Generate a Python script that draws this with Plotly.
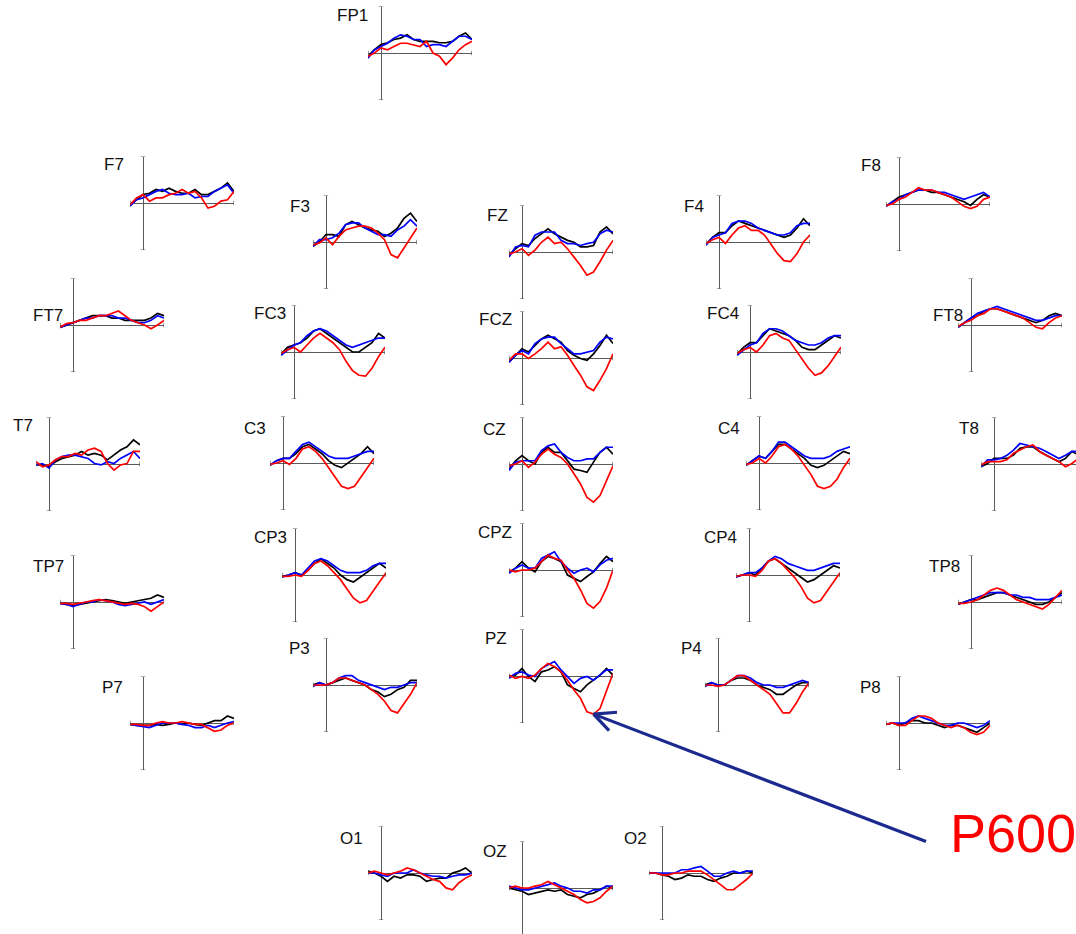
import plotly.graph_objects as go

# ---------------------------------------------------------------- data
# Grand-average ERPs (µV, negative plotted up), one value every 50 ms
TIMES = [-100, -50, 0, 50, 100, 150, 200, 250, 300, 350, 400, 450, 500, 550, 600, 650, 700]

CHANNELS = ["FP1", "F7", "F8", "F3", "FZ", "F4", "FT7", "FC3", "FCZ", "FC4", "FT8",
            "T7", "C3", "CZ", "C4", "T8", "TP7", "CP3", "CPZ", "CP4", "TP8",
            "P7", "P3", "PZ", "P4", "P8", "O1", "OZ", "O2"]

# condition drawn in black
COND_BLACK = {
    "FP1": [0.7, -0.7, -1.8, -2.2, -2.9, -3.2, -3.9, -2.9, -2.5, -2.5, -2.5, -2.2, -2.2, -2.5, -3.6, -4.3, -2.9],
    "F7":  [0.4, -0.7, -1.8, -2.1, -2.9, -2.5, -3.2, -2.5, -2.1, -2.1, -2.9, -1.8, -1.8, -2.5, -3.2, -4.3, -2.5],
    "F8":  [0.5, -0.5, -1.5, -2.0, -2.5, -3.0, -3.0, -2.5, -2.5, -2.0, -1.5, -1.0, -0.5, 0.3, -1.0, -2.0, -1.5],
    "F3":  [0.9, 0.0, -1.6, -1.6, -1.2, -3.7, -4.4, -3.7, -3.0, -2.6, -2.3, -1.2, -1.9, -3.0, -5.1, -6.2, -4.4],
    "FZ":  [0.7, -0.7, -1.8, -1.4, -2.9, -3.9, -5.0, -3.9, -3.2, -2.5, -2.1, -1.1, -1.1, -1.4, -4.3, -5.4, -3.9],
    "F4":  [0.5, -1.0, -2.0, -2.0, -3.5, -4.5, -4.0, -3.5, -3.0, -2.5, -2.0, -1.5, -1.0, -1.5, -3.0, -5.0, -3.5],
    "FT7": [0.5, 0.0, -0.5, -1.0, -1.5, -2.0, -2.0, -2.0, -1.5, -1.5, -1.0, -1.0, -1.0, -1.0, -1.5, -2.5, -2.0],
    "FC3": [0.5, -1.0, -1.5, -2.0, -3.0, -4.5, -5.0, -4.0, -3.0, -2.0, -1.0, 0.0, 0.0, -1.0, -2.0, -4.0, -3.0],
    "FCZ": [0.9, -0.6, -2.0, -1.3, -2.7, -4.1, -4.9, -4.1, -3.4, -1.6, -0.6, 0.1, 0.5, -0.9, -2.7, -4.9, -3.1],
    "FC4": [0.5, -1.0, -2.0, -2.0, -3.5, -5.0, -4.5, -4.0, -3.5, -2.5, -1.0, -0.5, -0.5, -1.5, -2.5, -3.5, -3.0],
    "FT8": [0.5, -0.5, -1.5, -2.0, -3.0, -3.5, -3.5, -3.0, -2.5, -2.0, -1.5, -1.0, -0.5, -1.0, -2.0, -2.5, -2.0],
    "T7":  [0.2, 0.2, 0.6, -0.5, -1.2, -1.6, -1.9, -2.7, -1.9, -2.3, -1.9, -0.9, -1.9, -3.0, -3.7, -5.2, -4.1],
    "C3":  [0.5, -0.5, -1.0, -1.0, -2.0, -3.5, -4.0, -3.0, -2.0, -0.5, 0.5, 1.0, 0.0, -1.0, -2.0, -3.5, -2.0],
    "CZ":  [1.1, -0.7, -1.8, -0.7, 0.0, -2.5, -3.6, -2.5, -2.5, -0.7, 1.1, 1.4, 1.8, -0.4, -2.5, -3.6, -2.1],
    "C4":  [0.5, -0.5, -1.5, -1.0, -2.5, -4.0, -4.0, -3.0, -2.0, -1.0, 0.5, 1.0, 0.5, -0.5, -1.5, -2.5, -2.0],
    "T8":  [0.6, -0.1, -1.2, -1.2, -1.2, -1.9, -3.4, -3.7, -3.7, -2.7, -1.9, -1.2, -0.5, -1.2, -2.7, -2.0, -1.2],
    "TP7": [0.3, 0.5, 0.8, 0.5, 0.3, 0.0, -0.3, -0.5, -0.3, 0.0, 0.3, 0.0, -0.3, -0.5, -0.8, -1.5, -1.0],
    "CP3": [0.3, 0.0, -0.5, 0.0, -1.0, -2.5, -3.5, -2.5, -1.5, 0.0, 1.0, 1.5, 0.5, -0.5, -1.5, -2.5, -1.5],
    "CPZ": [0.4, -0.4, -1.8, -0.4, 0.4, -1.8, -2.9, -2.5, -1.8, 1.1, 1.8, 2.5, 1.4, 0.4, -1.4, -2.9, -1.8],
    "CP4": [0.3, 0.0, -0.5, 0.0, -1.5, -3.0, -3.5, -2.5, -1.5, -0.5, 0.5, 1.5, 1.0, 0.0, -1.0, -2.0, -1.5],
    "TP8": [0.5, 0.0, -0.5, -0.5, -1.0, -1.5, -2.0, -2.0, -1.5, -1.0, -0.5, 0.0, 0.5, 0.5, 0.0, -1.0, -2.0],
    "P7":  [0.3, 0.5, 0.5, 0.5, 0.3, 0.5, 0.3, 0.0, 0.3, 0.0, 0.3, 0.5, 0.0, -0.5, -0.5, -1.5, -1.0],
    "P3":  [0.0, -0.5, 0.0, -0.5, -1.0, -1.5, -1.0, -0.5, 0.0, 1.0, 1.5, 2.5, 2.0, 1.0, 0.5, -1.0, -1.0],
    "PZ":  [0.1, -0.2, -1.6, 0.1, 1.2, -0.9, -1.3, -2.0, -0.9, 1.9, 2.7, 3.4, 1.9, 0.9, -0.2, -1.6, -0.2],
    "P4":  [0.0, -0.5, 0.0, 0.0, -1.0, -1.5, -1.5, -1.0, 0.0, 0.5, 1.0, 2.0, 2.0, 1.0, 0.0, -0.5, -0.5],
    "P8":  [0.3, 0.0, 0.5, 0.0, -0.5, -0.5, 0.0, 0.0, 0.5, 1.0, 0.5, 0.5, 1.0, 1.5, 2.0, 1.0, 0.0],
    "O1":  [-0.4, 0.0, 0.7, 1.8, 0.7, 1.1, 0.4, 0.4, 0.7, 1.8, 1.4, 1.1, 1.1, 0.0, -0.4, -1.1, 0.0],
    "OZ":  [0.0, 0.4, 0.7, 1.4, 1.1, 0.7, 0.4, 0.7, 0.4, 1.4, 1.8, 2.1, 1.4, 1.1, 0.4, -0.4, 0.0],
    "O2":  [0.0, 0.0, 0.4, 0.7, 1.4, 1.1, 0.4, 0.7, 0.7, 1.4, 1.8, 1.1, 0.7, 0.0, 0.0, -0.4, 0.0],
}

# condition drawn in blue
COND_BLUE = {
    "FP1": [1.1, -0.7, -1.4, -2.1, -3.2, -3.9, -3.6, -2.9, -2.9, -1.4, -1.8, -1.8, -1.4, -2.5, -3.6, -3.6, -2.9],
    "F7":  [0.7, -0.7, -1.1, -1.8, -2.5, -2.9, -2.1, -1.8, -1.8, -2.1, -1.1, -1.4, -1.4, -2.5, -3.2, -3.9, -2.1],
    "F8":  [0.5, -0.5, -1.0, -2.0, -2.5, -3.0, -3.0, -3.0, -2.5, -2.5, -2.0, -1.5, -1.0, -1.5, -2.0, -2.5, -1.5],
    "F3":  [0.9, -0.5, -0.5, -0.9, -1.9, -3.7, -4.1, -4.1, -3.0, -2.3, -1.6, -1.6, -1.2, -2.6, -3.4, -4.8, -3.4],
    "FZ":  [1.1, -1.1, -1.4, -1.1, -3.6, -4.3, -4.3, -4.3, -2.5, -1.8, -1.8, -1.4, -1.8, -2.1, -3.9, -4.7, -4.3],
    "F4":  [0.7, -1.0, -1.5, -2.0, -4.0, -4.5, -4.5, -4.0, -3.0, -2.5, -2.0, -1.5, -1.5, -2.0, -3.5, -4.0, -4.0],
    "FT7": [0.5, 0.0, -0.5, -1.0, -1.5, -1.5, -2.0, -2.0, -2.0, -1.5, -1.5, -1.0, -0.5, -0.5, -1.0, -2.0, -1.5],
    "FC3": [0.7, -0.5, -1.5, -2.0, -3.5, -4.5, -5.0, -4.5, -3.5, -2.5, -1.5, -1.0, -1.5, -2.0, -2.5, -3.0, -3.0],
    "FCZ": [0.9, -0.6, -1.6, -0.9, -3.1, -4.1, -4.5, -4.5, -3.1, -2.0, -0.9, -0.9, -1.3, -1.6, -3.4, -4.5, -4.1],
    "FC4": [0.7, -0.5, -1.5, -2.0, -4.0, -5.0, -5.0, -4.5, -3.5, -2.5, -2.0, -1.5, -1.5, -2.0, -3.0, -3.5, -3.5],
    "FT8": [0.5, -0.5, -1.5, -2.5, -3.0, -3.5, -4.0, -3.5, -3.0, -2.5, -2.0, -1.5, -1.0, -1.0, -1.5, -2.0, -2.0],
    "T7":  [0.2, -0.1, 0.9, -0.9, -1.6, -1.9, -1.9, -1.6, -1.2, -0.1, 0.2, -0.5, -0.1, -1.2, -1.9, -2.7, -1.2],
    "C3":  [0.5, -0.5, -1.0, -1.0, -2.5, -4.0, -4.5, -3.5, -2.5, -1.5, -1.0, -1.0, -1.0, -1.5, -2.0, -2.5, -2.5],
    "CZ":  [1.4, -0.4, -0.7, -0.7, -0.7, -2.9, -3.9, -4.3, -2.5, -1.4, -0.7, -0.7, -1.1, -1.1, -2.5, -3.6, -3.6],
    "C4":  [0.5, -0.5, -1.5, -1.0, -2.5, -4.5, -4.5, -3.5, -2.5, -1.5, -1.0, -1.0, -1.0, -1.5, -2.5, -3.0, -3.5],
    "T8":  [0.6, -0.9, -0.9, -1.2, -1.9, -3.0, -4.4, -4.1, -3.7, -3.4, -2.7, -1.9, -1.2, -1.9, -2.7, -2.7, -1.6],
    "TP7": [0.3, 0.5, 1.0, 0.5, 0.0, 0.0, -0.5, -0.3, 0.0, 0.5, 0.8, 0.5, 0.3, 0.0, 0.5, 0.0, -0.5],
    "CP3": [0.5, 0.0, -0.5, 0.0, -1.5, -3.0, -3.5, -3.0, -2.0, -1.0, -0.5, -0.5, -0.5, -1.0, -2.0, -2.5, -2.5],
    "CPZ": [0.7, -0.4, -1.1, -0.4, -0.4, -2.5, -3.2, -3.9, -1.8, -0.4, 0.7, 0.0, -0.4, 0.4, -1.1, -2.1, -2.5],
    "CP4": [0.5, 0.0, -0.5, -0.5, -1.5, -3.0, -4.0, -3.5, -2.5, -2.0, -1.5, -1.0, -1.0, -1.5, -2.0, -2.5, -2.5],
    "TP8": [0.5, 0.0, -0.5, -1.0, -1.5, -2.0, -2.0, -2.0, -1.5, -1.5, -1.0, -1.0, -0.5, -0.5, -0.5, -1.0, -1.5],
    "P7":  [0.3, 0.5, 0.8, 1.0, 0.5, 0.0, 0.0, 0.0, 0.3, 0.5, 1.0, 1.0, 0.5, 1.0, 0.5, 0.0, -0.3],
    "P3":  [0.3, -0.5, 0.0, -0.5, -1.5, -2.0, -2.0, -1.0, -0.5, 0.0, 0.5, 1.0, 0.5, 0.5, 0.0, -0.5, -0.5],
    "PZ":  [0.5, -0.6, -0.9, -0.2, 0.1, -1.6, -2.4, -3.1, -1.3, 0.1, 1.6, 0.5, 0.1, 0.9, -0.2, -1.3, -1.3],
    "P4":  [0.3, -0.5, 0.0, 0.0, -1.0, -2.0, -2.0, -1.5, -0.5, 0.0, 0.0, 0.5, 0.5, 0.0, -0.5, -1.0, -0.5],
    "P8":  [0.3, 0.0, 0.0, 0.0, -1.0, -1.5, -1.0, -0.5, 0.0, 0.5, 0.5, 0.0, 0.0, 0.5, 1.0, 0.5, -0.5],
    "O1":  [0.0, 0.0, 0.4, 0.7, 0.0, 0.0, 0.0, -0.7, 0.0, 0.4, 0.7, 0.7, 1.1, 0.7, 0.4, 0.4, 0.0],
    "OZ":  [-0.4, 0.0, 0.4, 0.4, 0.0, -0.4, -0.7, -1.1, -0.4, 0.0, 0.7, 0.7, 1.1, 0.4, 0.4, -0.4, -0.4],
    "O2":  [0.0, 0.0, 0.0, 0.0, 0.0, -0.7, -0.7, -1.1, -1.4, -0.4, 0.7, 0.7, 0.0, -0.4, 0.0, -0.4, -0.4],
}

# condition drawn in red
COND_RED = {
    "FP1": [0.7, 0.0, -1.1, -0.7, -1.4, -2.1, -2.1, -1.8, -1.4, -2.5, 0.0, 0.7, 2.5, 1.1, -0.7, -1.8, -2.5],
    "F7":  [0.4, -1.1, -1.8, -0.4, -1.1, -1.1, -1.8, -2.1, -2.9, -2.1, -2.5, -1.1, 1.1, 0.7, -0.4, -0.7, -2.5],
    "F8":  [0.3, 0.0, -1.0, -1.5, -2.5, -3.5, -3.0, -3.0, -2.5, -2.0, -1.5, -0.5, 0.5, 1.0, 0.5, -1.0, -1.5],
    "F3":  [0.6, 0.2, -0.9, 0.6, -1.2, -2.6, -3.0, -3.4, -3.4, -3.0, -1.9, -0.5, 2.7, 3.4, 1.3, -0.9, -3.0],
    "FZ":  [0.4, 0.0, -0.7, 0.7, -0.4, -2.1, -3.2, -1.8, -2.1, -0.7, 1.1, 2.9, 5.0, 4.3, 2.1, -0.4, -2.5],
    "F4":  [0.3, -0.5, -1.0, 0.3, -1.5, -3.0, -3.5, -2.5, -2.5, -1.5, 0.5, 2.5, 4.0, 4.2, 2.5, 0.0, -1.5],
    "FT7": [0.5, -0.3, -0.5, -1.0, -1.0, -1.5, -2.0, -2.0, -2.5, -3.0, -2.0, -1.0, -0.5, 0.0, 0.8, 0.0, -1.0],
    "FC3": [0.3, -0.5, -1.0, 0.0, -1.5, -3.0, -4.0, -3.0, -2.0, -0.5, 2.0, 4.0, 5.0, 5.2, 3.5, 1.0, -1.0],
    "FCZ": [0.5, -0.9, -0.9, 0.1, -0.9, -2.0, -3.4, -2.0, -2.4, -0.6, 1.6, 3.7, 6.2, 7.0, 4.8, 2.3, -0.9],
    "FC4": [0.3, -0.5, -1.0, 0.0, -1.5, -3.5, -4.0, -3.0, -2.5, -0.5, 1.5, 3.5, 5.0, 4.5, 3.0, 1.0, -1.0],
    "FT8": [0.3, -0.5, -1.0, -2.0, -2.5, -3.5, -3.5, -3.0, -2.5, -2.0, -1.5, -0.5, 0.5, 0.8, -0.5, -1.5, -2.0],
    "T7":  [-0.5, 0.6, 0.2, -0.9, -1.6, -1.6, -2.3, -1.9, -3.0, -3.4, -2.7, -0.1, 1.3, 0.2, -0.1, -2.7, -2.7],
    "C3":  [0.3, 0.0, -0.5, 0.3, -1.0, -3.0, -3.5, -2.5, -1.0, 1.0, 3.0, 5.0, 5.5, 5.0, 3.0, 1.0, -1.0],
    "CZ":  [0.4, 0.0, -0.7, 0.7, -0.4, -2.1, -3.2, -2.1, -1.4, 0.0, 2.1, 4.3, 7.2, 8.2, 6.8, 3.6, 0.4],
    "C4":  [0.3, 0.0, -1.0, 0.0, -1.5, -3.5, -4.0, -3.0, -1.5, 0.5, 2.5, 5.0, 5.5, 5.0, 3.5, 1.0, -1.0],
    "T8":  [0.2, -0.5, -0.5, -0.5, -0.9, -2.3, -3.0, -3.7, -4.1, -2.7, -1.9, -1.2, -0.5, 0.6, -0.1, -1.2, -1.9],
    "TP7": [0.3, 0.3, 0.5, 0.3, 0.0, -0.3, -0.5, -0.3, 0.0, 0.3, 0.5, 0.3, 0.5, 1.0, 2.0, 1.0, 0.0],
    "CP3": [0.3, 0.3, 0.0, 0.3, -1.0, -2.5, -3.0, -2.0, -0.5, 1.0, 3.0, 5.0, 6.0, 5.5, 3.5, 1.5, -0.5],
    "CPZ": [0.0, 0.4, 0.0, 0.0, -0.4, -1.8, -3.2, -2.5, -2.1, 0.0, 1.8, 4.3, 7.2, 8.2, 6.8, 3.9, 0.0],
    "CP4": [0.3, 0.0, 0.0, 0.3, -1.0, -3.0, -3.5, -2.5, -1.0, 0.5, 2.5, 5.0, 6.0, 5.5, 3.5, 1.5, -0.5],
    "TP8": [0.3, 0.3, 0.0, -0.5, -1.5, -2.5, -3.0, -2.5, -1.5, -0.5, 0.0, 0.5, 1.0, 1.5, 0.5, -1.0, -2.5],
    "P7":  [0.3, 0.3, 0.5, 0.5, 0.0, -0.3, 0.0, 0.0, -0.3, 0.0, 0.3, 0.3, 1.0, 1.8, 1.5, 0.5, 0.0],
    "P3":  [0.0, 0.0, 0.0, -0.5, -1.5, -1.5, -1.0, -0.5, 0.0, 1.0, 2.0, 3.5, 5.5, 6.0, 4.0, 2.0, -0.5],
    "PZ":  [-0.2, 0.5, 0.1, 0.5, -0.2, -1.6, -2.7, -2.0, -0.9, 0.9, 3.0, 4.8, 7.7, 8.2, 7.0, 3.4, -0.6],
    "P4":  [0.0, 0.0, 0.3, 0.0, -1.0, -2.0, -2.0, -1.0, 0.0, 1.0, 2.0, 4.0, 6.0, 6.0, 4.0, 1.5, -0.5],
    "P8":  [0.3, 0.0, 0.5, 0.5, -0.5, -1.5, -1.5, -1.0, 0.0, 0.5, 1.0, 0.5, 1.0, 2.0, 2.5, 2.0, 0.5],
    "O1":  [0.0, -0.4, 0.0, 0.4, 0.0, -0.4, -1.1, -0.7, 0.0, 0.7, 1.4, 1.8, 3.2, 3.6, 2.1, 1.1, 0.4],
    "OZ":  [0.0, -0.4, 0.0, 0.0, -0.4, -0.7, -1.4, -0.7, 0.0, 0.7, 1.4, 2.5, 3.2, 2.9, 2.1, 0.7, -0.4],
    "O2":  [0.0, 0.0, 0.4, 0.4, 0.0, 0.0, -0.4, -0.4, -0.4, 0.4, 1.4, 2.5, 3.6, 3.6, 2.5, 1.4, 0.0],
}

CONDITIONS = [(COND_BLACK, "#000000"), (COND_BLUE, "#0000ff"), (COND_RED, "#ff0000")]

# ---------------------------------------------------------------- layout
W, H = 1076, 934
T_MIN, T_MAX = -100, 700          # epoch, ms
AMP = 10.0                        # half-height of each panel, µV
PX_PER_MS = 0.13
PX_PER_UV = 4.65
AXIS_COLOR = "#5a5a5a"
LABEL_FONT = dict(family="Liberation Sans, Arial, sans-serif", size=17, color="#111111")

# scalp-map placement in page pixels: (x of t=0, y of 0 µV, label right edge, label centre y)
SITES = {
    "FP1": (381, 53, 370, 15),
    "F7":  (143, 203, 126, 164), "F8": (899, 204, 883, 165),
    "F3":  (326, 242, 312, 206), "FZ": (522, 252, 510, 216), "F4": (719, 242, 706, 206),
    "FT7": (73, 325, 65, 315), "FC3": (294, 352, 288, 313), "FCZ": (522, 358, 514, 320),
    "FC4": (750, 352, 741, 313), "FT8": (971, 325, 965, 315),
    "T7":  (49, 464, 35, 425), "C3": (283, 463, 268, 428), "CZ": (522, 464, 508, 429),
    "C4":  (759, 463, 742, 428), "T8": (994, 464, 981, 428),
    "TP7": (73, 602, 66, 566), "CP3": (295, 575, 289, 537), "CPZ": (522, 570, 514, 532),
    "CP4": (749, 575, 739, 537), "TP8": (971, 602, 962, 566),
    "P7":  (143, 723, 125, 687), "P3": (326, 685, 312, 648), "PZ": (522, 676, 509, 638),
    "P4":  (718, 685, 704, 648), "P8": (899, 723, 883, 687),
    "O1":  (381, 873, 365, 838), "OZ": (522, 888, 509, 851), "O2": (662, 873, 649, 838),
}

fig = go.Figure()
axes = {}
shapes = []
annotations = []


def px_x(x):
    return x / W


def px_y(y):
    return 1 - y / H


for i, ch in enumerate(CHANNELS, start=1):
    vx, by, lab_x, lab_y = SITES[ch]
    sfx = "" if i == 1 else str(i)
    xr, yr = "x" + sfx, "y" + sfx

    # horizontal extent (clipped at the page edge)
    left = vx + T_MIN * PX_PER_MS
    right = vx + T_MAX * PX_PER_MS
    t_hi = T_MAX
    if right > W:
        right = W
        t_hi = (W - vx) / PX_PER_MS
    # vertical extent (negative up)
    top = by - AMP * PX_PER_UV
    bottom = by + AMP * PX_PER_UV
    v_bottom = AMP
    if bottom > H:
        bottom = H
        v_bottom = (H - by) / PX_PER_UV

    common = dict(showgrid=False, showticklabels=False, ticks="", showline=False,
                  zeroline=True, zerolinecolor=AXIS_COLOR, zerolinewidth=1.4,
                  fixedrange=True)
    axes["xaxis" + sfx] = dict(domain=[px_x(left), px_x(right)], range=[T_MIN, t_hi],
                               anchor=yr, **common)
    axes["yaxis" + sfx] = dict(domain=[px_y(bottom), px_y(top)], range=[v_bottom, -AMP],
                               anchor=xr, **common)

    for cond, color in CONDITIONS:
        fig.add_trace(go.Scatter(x=TIMES, y=cond[ch], mode="lines",
                                 line=dict(color=color, width=1.7),
                                 xaxis=xr, yaxis=yr, showlegend=False,
                                 hoverinfo="skip"))

    # small end caps on the two axis lines
    cap_ms = 2.2 / PX_PER_MS
    cap_uv = 2.2 / PX_PER_UV
    cap = dict(type="line", xref=xr, yref=yr, line=dict(color=AXIS_COLOR, width=1.2))
    if v_bottom == AMP:
        shapes.append(dict(cap, x0=-cap_ms, x1=cap_ms, y0=AMP, y1=AMP))
    shapes.append(dict(cap, x0=-cap_ms, x1=cap_ms, y0=-AMP, y1=-AMP))
    shapes.append(dict(cap, x0=T_MIN, x1=T_MIN, y0=-cap_uv, y1=cap_uv))
    if t_hi == T_MAX:
        shapes.append(dict(cap, x0=T_MAX, x1=T_MAX, y0=-cap_uv, y1=cap_uv))

    annotations.append(dict(text=ch, x=px_x(lab_x), y=px_y(lab_y), xref="paper", yref="paper",
                            xanchor="right", yanchor="middle", showarrow=False,
                            font=LABEL_FONT))

# P600 call-out: arrow ending on the red PZ peak
pz_n = str(CHANNELS.index("PZ") + 1)
pz_red = COND_RED["PZ"]
peak_idx = max(range(len(pz_red)), key=lambda k: pz_red[k])
tip_t, tip_v = TIMES[peak_idx], pz_red[peak_idx]
ARROW_COLOR = "#1b2a8e"
arrow = dict(xref="x" + pz_n, yref="y" + pz_n, x=tip_t, y=tip_v, text="", showarrow=True,
             arrowhead=0, arrowwidth=3.2, arrowcolor=ARROW_COLOR, standoff=0,
             axref="pixel", ayref="pixel")
annotations.append(dict(arrow, ax=334, ay=128))     # shaft
annotations.append(dict(arrow, ax=25, ay=-2))       # upper barb
annotations.append(dict(arrow, ax=17, ay=18))       # lower barb

annotations.append(dict(text="P600", x=px_x(1013), y=px_y(833), xref="paper", yref="paper",
                        xanchor="center", yanchor="middle", showarrow=False,
                        font=dict(family="Liberation Sans, Arial, sans-serif",
                                  size=54, color="#ff0000")))

fig.update_layout(width=W, height=H, margin=dict(l=0, r=0, t=0, b=0),
                  paper_bgcolor="white", plot_bgcolor="rgba(0,0,0,0)",
                  showlegend=False, shapes=shapes, annotations=annotations, **axes)

fig.write_html("out.html", config={"displayModeBar": False})
